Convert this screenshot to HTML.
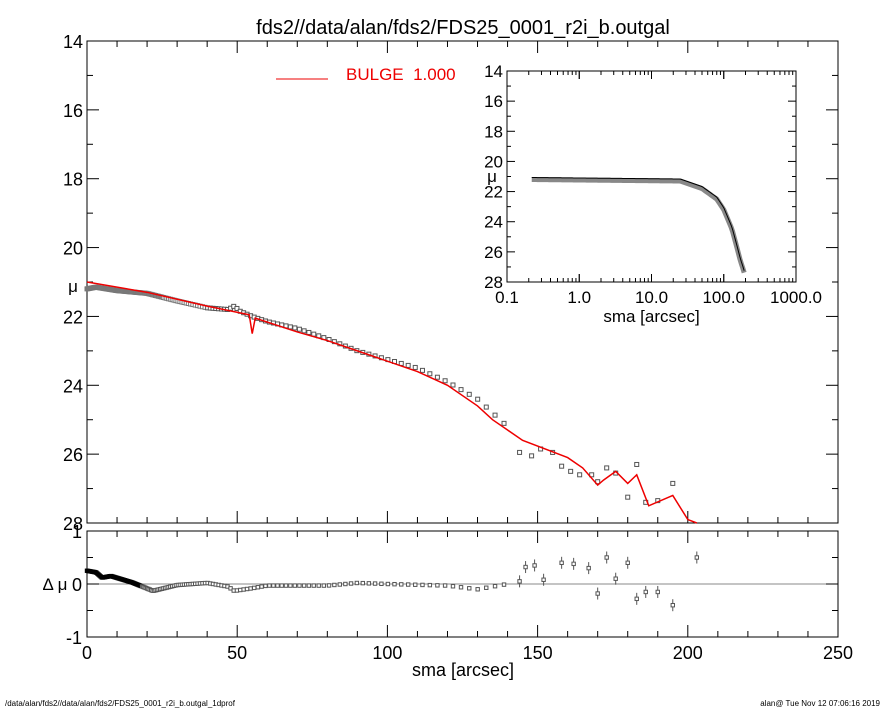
<!DOCTYPE html>
<html><head><meta charset="utf-8"><style>
html,body{margin:0;padding:0;background:#fff;}
svg{display:block;font-family:"Liberation Sans",sans-serif;}
</style></head><body>
<svg id="s" width="885" height="708" viewBox="0 0 885 708" xmlns="http://www.w3.org/2000/svg">
<rect width="885" height="708" fill="#fff"/>
<text x="463" y="34" font-size="20" text-anchor="middle">fds2//data/alan/fds2/FDS25_0001_r2i_b.outgal</text>
<g id="main"></g>
<text x="463" y="676" font-size="18" text-anchor="middle">sma [arcsec]</text>
<text x="5" y="706" font-size="8">/data/alan/fds2//data/alan/fds2/FDS25_0001_r2i_b.outgal_1dprof</text>
<text x="880" y="706" font-size="8" text-anchor="end">alan@  Tue Nov 12 07:06:16 2019</text>
<line x1="276" y1="79" x2="328" y2="79" stroke="#e00" stroke-width="1"/>
<text x="346" y="80" font-size="17" fill="#e00">BULGE&#160;&#160;1.000</text>
</svg>
<script>
const S=document.getElementById('main');let h='';
const L=87,R=838,T=41,B=523;
const X=r=>L+r*(R-L)/250, Y=m=>T+(m-14)*(B-T)/14;
const LT=531,LB=637, Yr=d=>584-d*53;
function interp(k,r){for(let i=1;i<k.length;i++){if(r<=k[i][0]){const a=k[i-1],b=k[i];return a[1]+(b[1]-a[1])*(r-a[0])/(b[0]-a[0]);}}return k[k.length-1][1];}
const dk=[[0,21.2],[3,21.15],[10,21.25],[20,21.33],[30,21.55],[40,21.75],[47,21.8],[49,21.7],[51,21.85],[55,22.0],[60,22.15],[70,22.35],[80,22.65],[90,23.0],[100,23.25],[110,23.5],[120,23.9],[130,24.4],[135,24.8],[140,25.2]];
const mk=[[0,21.0],[20,21.3],[40,21.7],[54,21.95],[55,22.5],[56,22.05],[70,22.45],[80,22.7],[90,23.0],[100,23.3],[110,23.6],[120,24.0],[130,24.6],[135,25.0],[140,25.3],[145,25.6],[160,26.1],[165,26.4],[170,26.9],[172,26.75],[176,26.5],[180,26.85],[183,26.6],[187,27.5],[195,27.2],[200,27.9],[203,28.0]];
const outer=[[144,25.95],[148,26.05],[151,25.85],[155,25.95],[158,26.35],[161,26.5],[164,26.6],[168,26.6],[170,26.8],[173,26.4],[176,26.55],[180,27.25],[183,26.3],[186,27.4],[190,27.35],[195,26.85]];
h+=`<rect x="${L}" y="${T}" width="${R-L}" height="${B-T}" fill="none" stroke="#000" stroke-width="1"/>`;
for(let m=14;m<=28;m+=1){const y=Y(m),len=m%2==0?12:6;h+=`<line x1="${L}" y1="${y}" x2="${L+len}" y2="${y}" stroke="#000"/><line x1="${R}" y1="${y}" x2="${R-len}" y2="${y}" stroke="#000"/>`;if(m%2==0)h+=`<text x="${L-4}" y="${y+7}" font-size="18" text-anchor="end">${m}</text>`;}
for(let r=0;r<=250;r+=10){const x=X(r),len=r%50==0?12:6;h+=`<line x1="${x}" y1="${B}" x2="${x}" y2="${B-len}" stroke="#000"/><line x1="${x}" y1="${T}" x2="${x}" y2="${T+len}" stroke="#000"/><line x1="${x}" y1="${LB}" x2="${x}" y2="${LB-len}" stroke="#000"/><line x1="${x}" y1="${LT}" x2="${x}" y2="${LT+len}" stroke="#000"/>`;if(r%50==0)h+=`<text x="${x}" y="${LB+22}" font-size="18" text-anchor="middle">${r}</text>`;}
h+=`<text x="73" y="292" font-size="17" text-anchor="middle">μ</text>`;
let rs=[];for(let r=0;r<=140;r+=Math.max(0.35,r*0.022))rs.push(r);
rs.forEach(r=>{const x=X(r),y=Y(interp(dk,r));const c=r<40?'#777':'#555';const f=r<25?'#888':'#fff';h+=`<rect x="${x-2}" y="${y-2}" width="4" height="4" fill="${f}" stroke="${c}" stroke-width="1"/>`;});
outer.forEach(p=>{const x=X(p[0]),y=Y(p[1]);h+=`<rect x="${x-2}" y="${y-2}" width="4" height="4" fill="#fff" stroke="#555" stroke-width="1"/>`;});
h+=`<polyline fill="none" stroke="#e00" stroke-width="1.5" points="${mk.map(p=>X(p[0])+','+Y(p[1])).join(' ')}"/>`;
h+=`<rect x="${L}" y="${LT}" width="${R-L}" height="${LB-LT}" fill="none" stroke="#000"/>`;
h+=`<line x1="${L}" y1="584" x2="${R}" y2="584" stroke="#888"/>`;
[[1,'1'],[0,'0'],[-1,'-1']].forEach(a=>{h+=`<text x="${L-5}" y="${Yr(a[0])+7}" font-size="18" text-anchor="end">${a[1]}</text>`;});
for(let d=-1;d<=1;d+=0.5)h+=`<line x1="${L}" y1="${Yr(d)}" x2="${L+(d%1==0?12:6)}" y2="${Yr(d)}" stroke="#000"/><line x1="${R}" y1="${Yr(d)}" x2="${R-(d%1==0?12:6)}" y2="${Yr(d)}" stroke="#000"/>`;
h+=`<text x="55" y="590" font-size="17" text-anchor="middle">Δ μ</text>`;
const rk=[[0,0.25],[3,0.22],[5,0.12],[8,0.15],[15,0.03],[22,-0.13],[30,-0.02],[40,0.02],[47,-0.05],[49,-0.13],[55,-0.08],[60,-0.03],[80,-0.03],[90,0.02],[100,0.0],[120,-0.03],[130,-0.1],[140,0.0]];
rs.forEach(r=>{const x=X(r),y=Yr(interp(rk,r));const f=r<18?'#000':'#fff';const s=r<18?'#000':'#555';h+=`<rect x="${x-1.7}" y="${y-1.7}" width="3.4" height="3.4" fill="${f}" stroke="${s}" stroke-width="1"/>`;});
[[144,0.05],[146,0.32],[149,0.35],[152,0.08],[158,0.4],[162,0.38],[167,0.3],[170,-0.18],[173,0.5],[176,0.1],[180,0.4],[183,-0.28],[186,-0.15],[190,-0.15],[195,-0.4],[203,0.5]].forEach(p=>{const x=X(p[0]),y=Yr(p[1]);h+=`<line x1="${x}" y1="${y-6}" x2="${x}" y2="${y+6}" stroke="#555"/><rect x="${x-1.7}" y="${y-1.7}" width="3.4" height="3.4" fill="#fff" stroke="#555"/>`;});
const IL=507,IR=796,IT=71,IB=282;
const IX=r=>IL+(Math.log10(r)+1)*(IR-IL)/4, IY=m=>IT+(m-14)*(IB-IT)/14;
h+=`<rect x="${IL}" y="${IT}" width="${IR-IL}" height="${IB-IT}" fill="#fff" stroke="#000"/>`;
for(let m=14;m<=28;m++){const y=IY(m),len=m%2==0?8:4;h+=`<line x1="${IL}" y1="${y}" x2="${IL+len}" y2="${y}" stroke="#000"/><line x1="${IR}" y1="${y}" x2="${IR-len}" y2="${y}" stroke="#000"/>`;if(m%2==0)h+=`<text x="${IL-4}" y="${y+6}" font-size="17" text-anchor="end">${m}</text>`;}
for(let d=-1;d<3;d++)for(let k=1;k<=10;k++){const x=IX(k*Math.pow(10,d)),len=k==1||k==10?8:4;h+=`<line x1="${x}" y1="${IB}" x2="${x}" y2="${IB-len}" stroke="#000"/><line x1="${x}" y1="${IT}" x2="${x}" y2="${IT+len}" stroke="#000"/>`;}
['0.1','1.0','10.0','100.0','1000.0'].forEach((t,i)=>h+=`<text x="${IL+i*(IR-IL)/4}" y="${IB+21}" font-size="17" text-anchor="middle">${t}</text>`);
h+=`<text x="${(IL+IR)/2}" y="${IB+40}" font-size="17" text-anchor="middle">sma [arcsec]</text>`;
h+=`<text x="492" y="182" font-size="17" text-anchor="middle">μ</text>`;
const ik=[[0.22,21.2],[25,21.3],[50,21.8],[80,22.5],[100,23.2],[130,24.5],[150,25.6],[170,26.6],[190,27.3],[205,28]];
const il=r=>{const lr=Math.log10(r);return interp(ik.map(p=>[Math.log10(p[0]),p[1]]),lr)};
let ip=[];for(let lr=Math.log10(0.22);lr<=Math.log10(200);lr+=0.02)ip.push(IX(Math.pow(10,lr))+','+IY(il(Math.pow(10,lr))));
h+=`<polyline fill="none" stroke="#888" stroke-width="5" points="${ip.join(' ')}"/>`;
h+=`<polyline fill="none" stroke="#000" stroke-width="1" points="${ip.map(s=>{const [a,b]=s.split(',');return a+','+(b-2)}).join(' ')}"/>`;
S.innerHTML=h;
</script>
</body></html>
